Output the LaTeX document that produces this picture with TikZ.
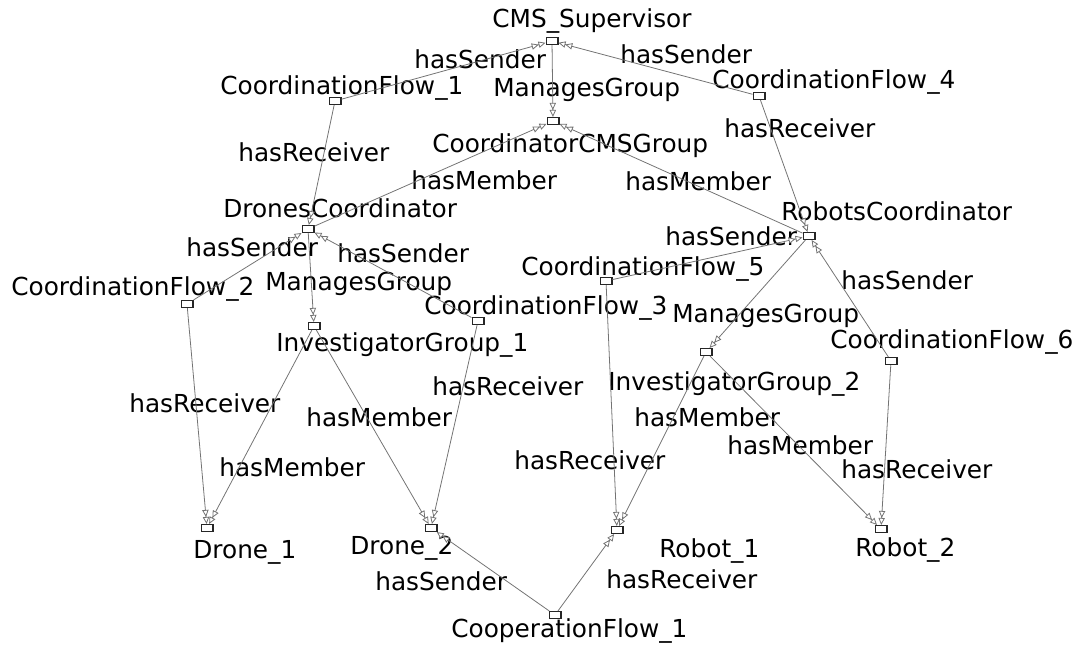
\documentclass[tikz,border=0pt]{standalone}
\usepackage{fontspec}
\setmainfont{DejaVu Sans}
\usetikzlibrary{arrows.meta}

\tikzset{
    box/.style={draw=black!85, fill=white, line width=0.6pt, inner sep=0pt,
        minimum width=6.8pt, minimum height=4pt},
    rel/.style={draw=black!55, line width=0.45pt,
        -{Triangle[open,length=4pt,width=3.6pt,fill=white] Triangle[open,length=4pt,width=3.6pt,fill=white]}},
    lbl/.style={anchor=base west, inner sep=0pt, font=\fontsize{14.1}{16}\selectfont},
}

\begin{document}
\begin{tikzpicture}[x=0.02cm, y=-0.02cm]
    \useasboundingbox (0,0) rectangle (1083,646);

    % Place the individuals
    \foreach \name/\x/\y in {cms/552/41, cf1/335/101, ccg/553/121, cf4/759/96,
        dc/308/229, rc/809/236, cf2/187/304, cf5/606/281, cf3/478/321,
        ig1/314/326, ig2/706/352, cf6/891/361, d1/207/528, d2/431/528,
        r1/617/530, r2/881/529, coop/555/615} {
            \node[box] (\name) at (\x,\y) {};
        }

    % Names of the individuals
    \foreach \name/\txt/\x/\y in {cms/CMS\_Supervisor/492/27,
        cf1/CoordinationFlow\_1/220/94, ccg/CoordinatorCMSGroup/432/152,
        cf4/CoordinationFlow\_4/712/88, dc/DronesCoordinator/223/217,
        rc/RobotsCoordinator/781/220, cf2/CoordinationFlow\_2/11/295,
        cf5/CoordinationFlow\_5/521/275, cf3/CoordinationFlow\_3/424/314,
        ig1/InvestigatorGroup\_1/276/351, ig2/InvestigatorGroup\_2/608/390,
        cf6/CoordinationFlow\_6/830/348, d1/Drone\_1/193/558,
        d2/Drone\_2/350/554, r1/Robot\_1/659/557, r2/Robot\_2/855/556,
        coop/CooperationFlow\_1/451/637} {
            \node[lbl] (\name-l) at (\x,\y) {\txt};
        }

    % Property names
    \foreach \txt/\x/\y [count=\i] in {hasSender/414/68, ManagesGroup/493/96,
        hasSender/620/63, hasReceiver/724/137, hasReceiver/238/161,
        hasMember/411/189, hasMember/625/190, hasSender/665/245,
        hasSender/186/256, hasSender/337/262, ManagesGroup/265/290,
        hasSender/841/289, ManagesGroup/672/322, hasReceiver/432/395,
        hasReceiver/129/412, hasMember/306/426, hasMember/634/426,
        hasMember/727/454, hasReceiver/514/469, hasMember/219/476,
        hasReceiver/841/478, hasSender/375/590, hasReceiver/606/588} {
            \node[lbl] (p\i) at (\x,\y) {\txt};
        }

    % Draw the relations
    \foreach \a/\b in {cf1/cms, cms/ccg, cf4/cms, cf1/dc, cf4/rc, dc/ccg,
        rc/ccg, cf2/dc, cf3/dc, dc/ig1, cf5/rc, rc/ig2, cf6/rc, cf2/d1,
        ig1/d1, ig1/d2, cf3/d2, ig2/r1, ig2/r2, cf5/r1, cf6/r2, coop/d2,
        coop/r1} {
            \draw[rel] (\a) -- (\b);
        }
\end{tikzpicture}
\end{document}
